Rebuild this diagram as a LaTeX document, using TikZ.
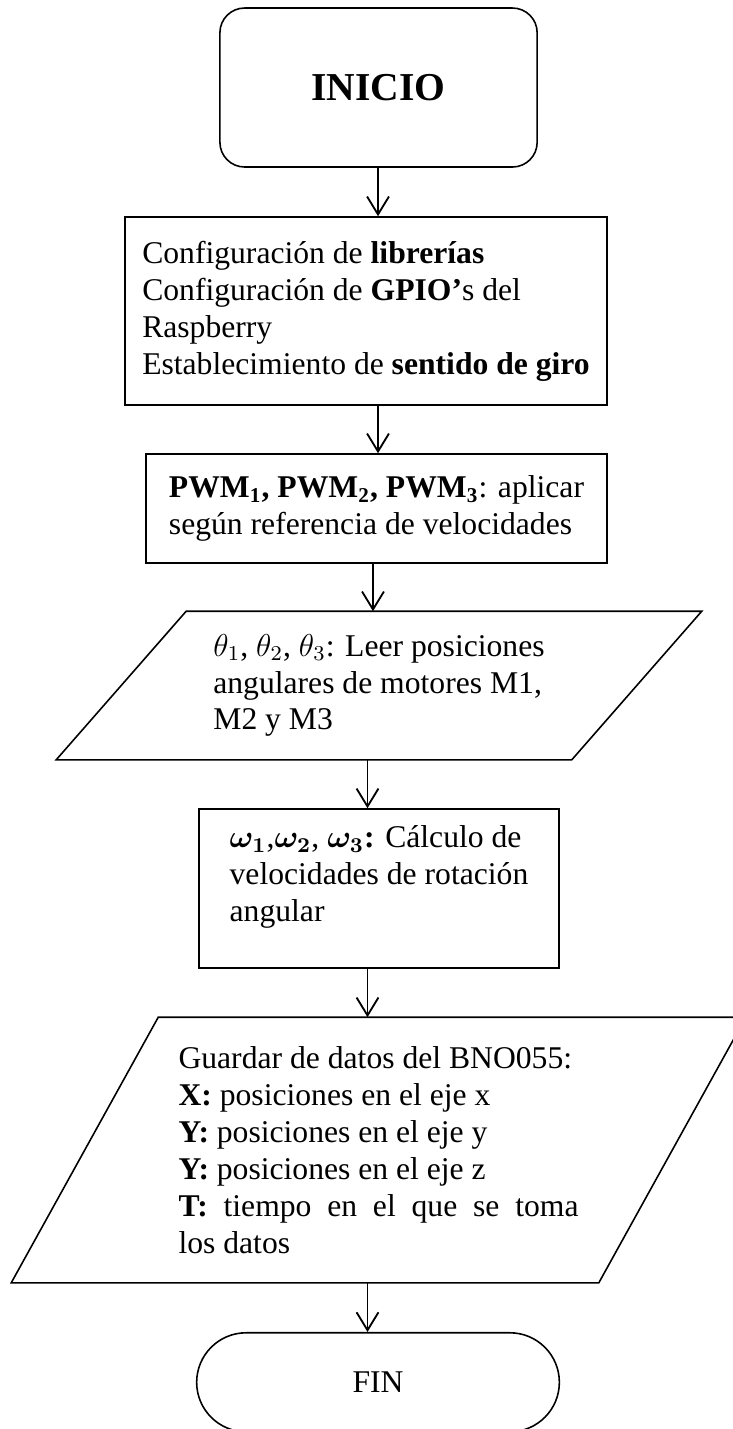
\documentclass[tikz,border=0pt]{standalone}
\usepackage{amsmath,amssymb}
\usepackage{fontspec}
\setmainfont{Liberation Serif}
\usetikzlibrary{shapes.geometric, shapes.misc, arrows.meta, positioning}
\tikzset{
  startbox/.style={rectangle, draw, rounded corners=0.33cm, minimum width=4.23cm,
                   minimum height=2.12cm, font=\fontsize{15}{17}\selectfont\bfseries},
  procbox/.style={rectangle, draw, align=left},
  iotext/.style={rectangle, align=left},
  endbox/.style={rounded rectangle, draw, minimum width=5.07cm, minimum height=1.32cm},
  arrow/.style={-{Straight Barb[length=6.8pt, width=8.3pt]}, line width=0.7pt},
}

\begin{document}
\begin{tikzpicture}[font=\fontsize{12}{14}\selectfont, line width=0.6pt]
  \useasboundingbox (0,0) rectangle (9.773,-19.053);

  \node[startbox] (inicio) at (5.047,-1.167) {INICIO};
  \node[procbox, minimum width=6.427cm, minimum height=2.507cm] (conf) at (4.88,-4.147)
    {Configuración de \textbf{librerías}\\
     Configuración de \textbf{GPIO’}s del\\
     Raspberry\\
     Establecimiento de \textbf{sentido de giro}};
  \node[procbox, minimum width=6.147cm, minimum height=1.453cm] (pwm) at (5.02,-6.78)
    {\textbf{PWM\textsubscript{1}, PWM\textsubscript{2}, PWM\textsubscript{3}}: aplicar\\
     según referencia de velocidades};
  \node[iotext, minimum width=5.12cm, minimum height=1.96cm] (theta) at (5.053,-9.14)
    {$\theta_1$, $\theta_2$, $\theta_3$: Leer posiciones\\
     angulares de motores M1,\\
     M2 y M3};
  \node[procbox, minimum width=4.8cm, minimum height=2.12cm] (omega) at (5.053,-11.847)
    {$\boldsymbol{\omega_1}$,$\boldsymbol{\omega_2}$, $\boldsymbol{\omega_3}$\textbf{:} Cálculo de\\
     velocidades de rotación\\
     angular\\[-0.1cm]};
  \node[iotext, minimum width=5.853cm, minimum height=3.52cm] (guardar) at (5.047,-15.333)
    {Guardar de datos del BNO055:\\
     \textbf{X:} posiciones en el eje x\\
     \textbf{Y:} posiciones en el eje y\\
     \textbf{Y:} posiciones en el eje z\\
     \makebox[5.333cm][s]{\textbf{T:} tiempo en el que se toma}\\
     los datos};
  \node[endbox] (fin) at (5.04,-18.43) {FIN};

  % parallelograms round the input/output texts
  \draw ([xshift=-1.733cm]theta.south west) -- (theta.north west)
    -- ([xshift=1.733cm]theta.north east) -- (theta.south east) -- cycle;
  \draw ([xshift=-1.96cm]guardar.south west) -- (guardar.north west)
    -- ([xshift=1.96cm]guardar.north east) -- (guardar.south east) -- cycle;

  % arrow columns
  \coordinate (upper) at (5.04,0);
  \coordinate (mid) at (4.973,0);
  \coordinate (lower) at (4.9,0);

  \draw[arrow] (upper |- inicio.south) -- (upper |- conf.north);
  \draw[arrow] (upper |- conf.south) -- (upper |- pwm.north);
  \draw[arrow] (mid |- pwm.south) -- (mid |- theta.north);
  \draw[arrow] (lower |- theta.south) -- (lower |- omega.north);
  \draw[arrow] (lower |- omega.south) -- (lower |- guardar.north);
  \draw[arrow] (lower |- guardar.south) -- (lower |- fin.north);
\end{tikzpicture}
\end{document}
